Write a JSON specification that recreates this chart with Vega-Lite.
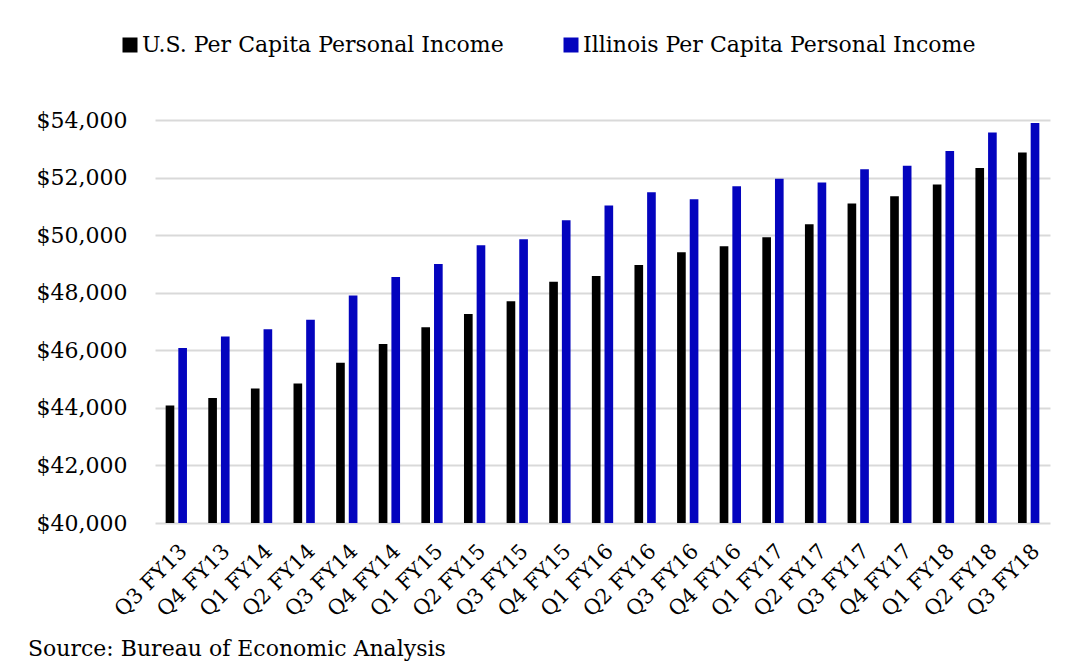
{
  "$schema": "https://vega.github.io/schema/vega-lite/v6.json",
  "width": 895,
  "height": 403,
  "autosize": "none",
  "padding": {"left": 155, "top": 120, "right": 20, "bottom": 147},
  "background": "white",
  "data": {"values": [
    {"q": "Q3 FY13", "series": "U.S. Per Capita Personal Income", "value": 44080},
    {"q": "Q3 FY13", "series": "Illinois Per Capita Personal Income", "value": 46080},
    {"q": "Q4 FY13", "series": "U.S. Per Capita Personal Income", "value": 44340},
    {"q": "Q4 FY13", "series": "Illinois Per Capita Personal Income", "value": 46480},
    {"q": "Q1 FY14", "series": "U.S. Per Capita Personal Income", "value": 44670},
    {"q": "Q1 FY14", "series": "Illinois Per Capita Personal Income", "value": 46730},
    {"q": "Q2 FY14", "series": "U.S. Per Capita Personal Income", "value": 44850},
    {"q": "Q2 FY14", "series": "Illinois Per Capita Personal Income", "value": 47060},
    {"q": "Q3 FY14", "series": "U.S. Per Capita Personal Income", "value": 45570},
    {"q": "Q3 FY14", "series": "Illinois Per Capita Personal Income", "value": 47900},
    {"q": "Q4 FY14", "series": "U.S. Per Capita Personal Income", "value": 46220},
    {"q": "Q4 FY14", "series": "Illinois Per Capita Personal Income", "value": 48550},
    {"q": "Q1 FY15", "series": "U.S. Per Capita Personal Income", "value": 46800},
    {"q": "Q1 FY15", "series": "Illinois Per Capita Personal Income", "value": 49000},
    {"q": "Q2 FY15", "series": "U.S. Per Capita Personal Income", "value": 47260},
    {"q": "Q2 FY15", "series": "Illinois Per Capita Personal Income", "value": 49650},
    {"q": "Q3 FY15", "series": "U.S. Per Capita Personal Income", "value": 47700},
    {"q": "Q3 FY15", "series": "Illinois Per Capita Personal Income", "value": 49860},
    {"q": "Q4 FY15", "series": "U.S. Per Capita Personal Income", "value": 48380},
    {"q": "Q4 FY15", "series": "Illinois Per Capita Personal Income", "value": 50520},
    {"q": "Q1 FY16", "series": "U.S. Per Capita Personal Income", "value": 48580},
    {"q": "Q1 FY16", "series": "Illinois Per Capita Personal Income", "value": 51030},
    {"q": "Q2 FY16", "series": "U.S. Per Capita Personal Income", "value": 48960},
    {"q": "Q2 FY16", "series": "Illinois Per Capita Personal Income", "value": 51490},
    {"q": "Q3 FY16", "series": "U.S. Per Capita Personal Income", "value": 49410},
    {"q": "Q3 FY16", "series": "Illinois Per Capita Personal Income", "value": 51250},
    {"q": "Q4 FY16", "series": "U.S. Per Capita Personal Income", "value": 49610},
    {"q": "Q4 FY16", "series": "Illinois Per Capita Personal Income", "value": 51700},
    {"q": "Q1 FY17", "series": "U.S. Per Capita Personal Income", "value": 49930},
    {"q": "Q1 FY17", "series": "Illinois Per Capita Personal Income", "value": 51960},
    {"q": "Q2 FY17", "series": "U.S. Per Capita Personal Income", "value": 50380},
    {"q": "Q2 FY17", "series": "Illinois Per Capita Personal Income", "value": 51830},
    {"q": "Q3 FY17", "series": "U.S. Per Capita Personal Income", "value": 51100},
    {"q": "Q3 FY17", "series": "Illinois Per Capita Personal Income", "value": 52290},
    {"q": "Q4 FY17", "series": "U.S. Per Capita Personal Income", "value": 51350},
    {"q": "Q4 FY17", "series": "Illinois Per Capita Personal Income", "value": 52410},
    {"q": "Q1 FY18", "series": "U.S. Per Capita Personal Income", "value": 51760},
    {"q": "Q1 FY18", "series": "Illinois Per Capita Personal Income", "value": 52920},
    {"q": "Q2 FY18", "series": "U.S. Per Capita Personal Income", "value": 52330},
    {"q": "Q2 FY18", "series": "Illinois Per Capita Personal Income", "value": 53570},
    {"q": "Q3 FY18", "series": "U.S. Per Capita Personal Income", "value": 52870},
    {"q": "Q3 FY18", "series": "Illinois Per Capita Personal Income", "value": 53900}
  ]},
  "title": {
    "text": "Source: Bureau of Economic Analysis",
    "orient": "bottom",
    "anchor": "start",
    "frame": "bounds",
    "offset": 19,
    "dx": -8,
    "font": "DejaVu Serif",
    "fontSize": 22,
    "fontWeight": "normal",
    "color": "#000000"
  },
  "mark": {"type": "bar", "clip": true},
  "encoding": {
    "x": {
      "field": "q",
      "type": "nominal",
      "sort": null,
      "scale": {"paddingInner": 0.5, "paddingOuter": 0.25},
      "axis": {
        "title": null,
        "labelAngle": -45,
        "labelFont": "DejaVu Serif",
        "labelFontSize": 21,
        "labelColor": "#000000",
        "ticks": false,
        "domain": false,
        "labelPadding": 17,
        "labelOverlap": false
      }
    },
    "xOffset": {
      "field": "series",
      "type": "nominal",
      "sort": ["U.S. Per Capita Personal Income", "Illinois Per Capita Personal Income"],
      "scale": {"paddingInner": 0.316}
    },
    "y": {
      "field": "value",
      "type": "quantitative",
      "scale": {"domain": [40000, 54000], "zero": false, "nice": false},
      "axis": {
        "title": null,
        "values": [40000, 42000, 44000, 46000, 48000, 50000, 52000, 54000],
        "format": "$,.0f",
        "labelFont": "DejaVu Serif",
        "labelFontSize": 22,
        "labelColor": "#000000",
        "labelPadding": 28,
        "ticks": false,
        "domain": false,
        "gridColor": "#d9d9d9",
        "gridWidth": 2
      }
    },
    "color": {
      "field": "series",
      "type": "nominal",
      "scale": {
        "domain": ["U.S. Per Capita Personal Income", "Illinois Per Capita Personal Income"],
        "range": ["#000000", "#0404BE"]
      },
      "legend": {
        "title": null,
        "orient": "none",
        "direction": "horizontal",
        "legendX": -36,
        "legendY": -86,
        "symbolType": "square",
        "symbolSize": 225,
        "symbolStrokeWidth": 0,
        "labelFont": "DejaVu Serif",
        "labelFontSize": 22,
        "labelColor": "#000000",
        "labelLimit": 600,
        "labelOffset": 1,
        "columnPadding": 56
      }
    }
  },
  "config": {
    "view": {"stroke": null}
  }
}
